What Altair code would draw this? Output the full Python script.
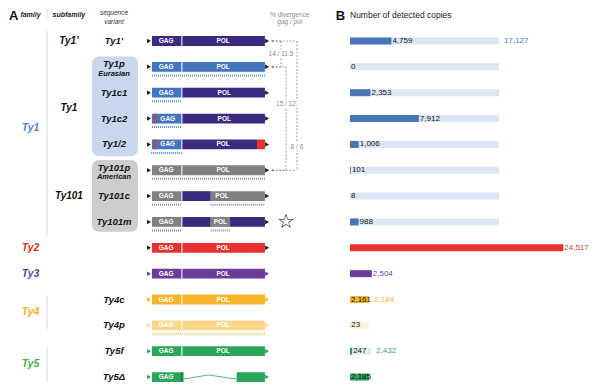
import altair as alt
import pandas as pd

# ---------------- data ----------------
variants = ["Ty1'", "Ty1p", "Ty1c1", "Ty1c2", "Ty1/2", "Ty101p", "Ty101c", "Ty101m",
            "Ty2", "Ty3", "Ty4c", "Ty4p", "Ty5f", "Ty5Δ"]
variant_labels = ["Ty1'", "Ty1p", "Ty1c1", "Ty1c2", "Ty1/2", "Ty101p", "Ty101c", "Ty101m",
                  "", "", "Ty4c", "Ty4p", "Ty5f", "Ty5Δ"]
variant_sublabels = ["", "Eurasian", "", "", "", "American", "", "", "", "", "", "", "", ""]
families = ["Ty1", "Ty2", "Ty3", "Ty4", "Ty5"]
subfamilies = ["Ty1'", "Ty1", "Ty101"]

copies = [4759, 0, 2353, 7912, 1006, 101, 8, 988, 24517, 2504, 2161, 23, 247, 2185]
copy_group = ["Ty1"] * 8 + ["Ty2", "Ty3", "Ty4c", "Ty4p", "Ty5", "Ty5"]
total_names = ["Ty1", "Ty4", "Ty5"]
total_values = [17127, 2184, 2432]
total_members = [variants[0:8], ["Ty4c", "Ty4p"], ["Ty5f", "Ty5Δ"]]

# gene structure (percent of element length) and lineage of origin of each part
seg_variant = ["Ty1'", "Ty1'", "Ty1p", "Ty1p", "Ty1c1", "Ty1c1",
               "Ty1c2", "Ty1c2", "Ty1c2", "Ty1/2", "Ty1/2", "Ty1/2", "Ty1/2",
               "Ty101p", "Ty101p", "Ty101c", "Ty101c", "Ty101c",
               "Ty101m", "Ty101m", "Ty101m", "Ty101m",
               "Ty2", "Ty2", "Ty3", "Ty3", "Ty4c", "Ty4c", "Ty4p", "Ty4p",
               "Ty5f", "Ty5f", "Ty5Δ", "Ty5Δ"]
seg_start = [0, 26.5, 0, 26.5, 0, 26.5,
             0, 26.5, 2.2, 0, 26.5, 2.2, 93,
             0, 26.5, 0, 26.5, 52,
             0, 26.5, 52, 69,
             0, 26.5, 0, 26.5, 0, 26.5, 0, 26.5,
             0, 26.5, 0, 75]
seg_end = [26.5, 100, 26.5, 100, 26.5, 100,
           26.5, 100, 3.8, 26.5, 93, 3.8, 100,
           26.5, 100, 26.5, 52, 100,
           26.5, 52, 69, 100,
           26.5, 100, 26.5, 100, 26.5, 100, 26.5, 100,
           26.5, 100, 28, 100]
seg_origin = ["Ty1'", "Ty1'", "Ty1p", "Ty1p", "Ty1p", "Ty1'",
              "Ty1p", "Ty1'", "Ty2", "Ty1p", "Ty1'", "Ty2", "Ty2",
              "Ty101", "Ty101", "Ty101", "Ty1'", "Ty101",
              "Ty101", "Ty1'", "Ty101", "Ty1'",
              "Ty2", "Ty2", "Ty3", "Ty3", "Ty4c", "Ty4c", "Ty4p", "Ty4p",
              "Ty5", "Ty5", "Ty5", "Ty5"]
tip_origin = ["LTR"] * 9 + ["Ty3", "Ty4c", "Ty4p", "Ty5", "Ty5"]

dom_variant = ["Ty1'", "Ty1'", "Ty1p", "Ty1p", "Ty1c1", "Ty1c1", "Ty1c2", "Ty1c2",
               "Ty1/2", "Ty1/2", "Ty101p", "Ty101p", "Ty101c", "Ty101c", "Ty101m", "Ty101m",
               "Ty2", "Ty2", "Ty3", "Ty3", "Ty4c", "Ty4c", "Ty4p", "Ty4p",
               "Ty5f", "Ty5f", "Ty5Δ"]
dom_text = ["GAG", "POL"] * 13 + ["GAG"]
dom_pos = [12.5, 63, 12.5, 63, 12.5, 64, 14, 64, 14, 63, 12.5, 63, 12.5, 62, 12.5, 60.5,
           12.5, 63, 12.5, 63, 12.5, 63, 12.5, 63, 12.5, 63, 12.5]

dot_variant = ["Ty1p", "Ty1c1", "Ty1c2", "Ty1/2", "Ty101p", "Ty101c", "Ty101c",
               "Ty101m", "Ty101m", "Ty4p"]
dot_start = [0, 0, 0, -1, 0, 0, 52, 0, 52, 0]
dot_end = [100, 26.5, 26.5, 26.5, 100, 26.5, 100, 26.5, 69, 100]
dot_origin = ["Ty1p"] * 4 + ["Ty101"] * 5 + ["Ty4p"]

div_text = ["14 / 11.5", "15 / 12", "8 / 6"]
div_from = ["Ty1'", "Ty1p", "Ty1'"]
div_to = ["Ty1p", "Ty101p", "Ty101p"]

# ---------------- layout / style ----------------
FONT = "Liberation Sans"
XA = [-127.4, 162.0]          # schematic units (element = 0..100)
XB = [-1724, 27816]           # copies
YD = [-1.238, 13.23]          # rows
H = 374
WA, WB = 327, 257
BOX = 0.19
BAR = 0.135
col_family, col_sub, col_var = -107.5, -73.5, -33.6
sep_x = -92.9
arrow_x = 106.4
div_x = [114.2, 118.6, 128.3]
div_label_row = [0.52, 2.45, 4.1]

origin_dom = ["Ty1'", "Ty1p", "Ty101", "Ty2", "Ty3", "Ty4c", "Ty4p", "Ty5", "LTR"]
origin_rng = ["#3b2a7f", "#4275bd", "#808080", "#e8302e", "#6a3d9a",
              "#f8b42c", "#fcd88f", "#2aa65a", "#1a1a1a"]
ocolor = alt.Color("origin:N", scale=alt.Scale(domain=origin_dom, range=origin_rng), legend=None)

row_of = {v: i for i, v in enumerate(variants)}


def xa(f):
    return alt.X(f"{f}:Q", scale=alt.Scale(domain=XA, nice=False, zero=False), axis=None)


def xb(f):
    return alt.X(f"{f}:Q", scale=alt.Scale(domain=XB, nice=False, zero=False), axis=None)


def yy(f):
    return alt.Y(f"{f}:Q", scale=alt.Scale(domain=YD, nice=False, zero=False, reverse=True), axis=None)


# ---------------- panel A ----------------
seg = pd.DataFrame({"v": seg_variant, "s": seg_start, "e": seg_end, "origin": seg_origin})
seg["row"] = seg["v"].map(row_of)
seg["y0"] = seg["row"] - BOX
seg["y1"] = seg["row"] + BOX
segments = alt.Chart(seg).mark_rect().encode(
    x=xa("s"), x2="e", y=yy("y0"), y2="y1", color=ocolor)

sep = pd.DataFrame({"v": variants, "pos": 26.5})
sep["row"] = sep["v"].map(row_of)
sep["y0"] = sep["row"] - BOX
sep["y1"] = sep["row"] + BOX
sep["kind"] = ["white"] * 13 + ["dark"]
separators = alt.Chart(sep).mark_rule(strokeWidth=1).encode(
    x=xa("pos"), y=yy("y0"), y2="y1",
    color=alt.Color("kind:N", scale=alt.Scale(domain=["white", "dark"], range=["#ffffff", "#17673a"]), legend=None))

tips = pd.DataFrame({"v": variants, "origin": tip_origin})
tips["row"] = tips["v"].map(row_of)
tips_l = tips.assign(pos=-2.6)
tips_r = tips.assign(pos=101.9)
tip_marks = alt.Chart(pd.concat([tips_l, tips_r])).mark_point(
    shape="triangle-right", filled=True, size=20, opacity=1).encode(
    x=xa("pos"), y=yy("row"), color=ocolor)

ty5d = pd.DataFrame({"pos": [28, 50, 75],
                     "row": [row_of["Ty5Δ"] + 0.08, row_of["Ty5Δ"] - 0.08, row_of["Ty5Δ"] + 0.08],
                     "o": [0, 1, 2]})
ty5_line = alt.Chart(ty5d).mark_line(color="#2aa65a", strokeWidth=0.8).encode(
    x=xa("pos"), y=yy("row"), order="o:Q")

dom = pd.DataFrame({"v": dom_variant, "t": dom_text, "pos": dom_pos})
dom["row"] = dom["v"].map(row_of)
dom_labels = alt.Chart(dom).mark_text(font=FONT, fontSize=6.5, fontWeight="bold", color="white",
                                      baseline="middle").encode(x=xa("pos"), y=yy("row"), text="t:N")

dots = pd.DataFrame({"v": dot_variant, "s": dot_start, "e": dot_end, "dk": dot_origin})
dots["row"] = dots["v"].map(row_of) + 0.33
dot_marks = alt.Chart(dots).mark_rule(strokeWidth=2, strokeDash=[1, 1]).encode(
    x=xa("s"), x2="e", y=yy("row"),
    color=alt.Color("dk:N", scale=alt.Scale(domain=["Ty1p", "Ty101", "Ty4p"],
                                            range=["#5f8fd3", "#8c8c8c", "#f8cf7c"]), legend=None))

# background boxes for subfamilies
boxes = pd.DataFrame({"name": ["Ty1", "Ty101"], "x0": [-53.1, -53.1], "x1": [-12.4, -12.4],
                      "y0": [0.6, 4.6], "y1": [4.46, 7.38]})
box_marks = alt.Chart(boxes).mark_rect(cornerRadius=7).encode(
    x=xa("x0"), x2="x1", y=yy("y0"), y2="y1",
    color=alt.Color("name:N", scale=alt.Scale(domain=["Ty1", "Ty101"], range=["#c9d7ef", "#cdcdcd"]),
                    legend=None))

vlines = pd.DataFrame({"pos": [sep_x] * 4, "y0": [-1.238, -0.39, 9.85, 11.85], "y1": [-0.92, 7.55, 11.15, 13.2]})
vline_marks = alt.Chart(vlines).mark_rule(color="#d0d0d0", strokeWidth=0.8).encode(
    x=xa("pos"), y=yy("y0"), y2="y1")

# divergence brackets
br = []
for xpos, a, b in zip(div_x, div_from, div_to):
    ra, rb = row_of[a], row_of[b]
    br.append({"x0": arrow_x, "x1": xpos, "y0": ra, "y1": ra})
    br.append({"x0": xpos, "x1": xpos, "y0": ra, "y1": rb})
    br.append({"x0": arrow_x, "x1": xpos, "y0": rb, "y1": rb})
brd = pd.DataFrame(br)
bracket_marks = alt.Chart(brd).mark_rule(color="#8c8c8c", strokeWidth=0.8, strokeDash=[2, 1.5]).encode(
    x=xa("x0"), x2="x1", y=yy("y0"), y2="y1")
arr = pd.DataFrame({"pos": [arrow_x] * 3, "row": sorted({row_of[v] for v in div_from + div_to})})
arrow_marks = alt.Chart(arr).mark_point(shape="triangle-left", filled=True, size=10, color="#8c8c8c",
                                        opacity=1).encode(x=xa("pos"), y=yy("row"))
divl = pd.DataFrame({"t": div_text, "pos": div_x, "row": div_label_row})
div_halo = alt.Chart(divl).mark_text(font=FONT, fontSize=6.5, color="white", stroke="white",
                                     strokeWidth=3, baseline="middle").encode(x=xa("pos"), y=yy("row"), text="t:N")
div_lab = alt.Chart(divl).mark_text(font=FONT, fontSize=6.5, color="#8c8c8c",
                                    baseline="middle").encode(x=xa("pos"), y=yy("row"), text="t:N")

star = alt.Chart(pd.DataFrame({"t": ["☆"], "pos": [118.6], "row": [row_of["Ty101m"]]})).mark_text(
    font="DejaVu Sans", fontSize=20, color="#222", baseline="middle").encode(x=xa("pos"), y=yy("row"), text="t:N")

# headers
hdr = pd.DataFrame({"t": ["family", "subfamily"], "pos": [col_family, col_sub], "row": [-1.02, -1.02]})
hdr_marks = alt.Chart(hdr).mark_text(font=FONT, fontSize=7, fontWeight="bold", fontStyle="italic",
                                     baseline="middle", color="#222").encode(x=xa("pos"), y=yy("row"), text="t:N")
hdr2 = pd.DataFrame({"t": ["sequence", "variant"], "pos": [col_var, col_var], "row": [-1.07, -0.75]})
hdr2_marks = alt.Chart(hdr2).mark_text(font=FONT, fontSize=6.5, fontStyle="italic", baseline="middle",
                                       color="#333").encode(x=xa("pos"), y=yy("row"), text="t:N")
pct = alt.Chart(pd.DataFrame({"t": ["% divergence"], "pos": [122], "row": [-1.02]})).mark_text(
    font=FONT, fontSize=6.5, baseline="middle", color="#8c8c8c").encode(x=xa("pos"), y=yy("row"), text="t:N")
gp = alt.Chart(pd.DataFrame({"t": ["gag / pol"], "pos": [122], "row": [-0.72]})).mark_text(
    font=FONT, fontSize=6.5, fontStyle="italic", baseline="middle", color="#8c8c8c").encode(
    x=xa("pos"), y=yy("row"), text="t:N")
a_mark = alt.Chart(pd.DataFrame({"t": ["A"], "pos": [-126.6], "row": [-1.2]})).mark_text(
    font=FONT, fontSize=13, fontWeight="bold", align="left", baseline="top", color="#111").encode(
    x=xa("pos"), y=yy("row"), text="t:N")

fam = pd.DataFrame({"t": families, "pos": col_family, "row": [3.35, 8, 9, 10.5, 12.5]})
fam_marks = alt.Chart(fam).mark_text(font=FONT, fontSize=10.5, fontWeight="bold", fontStyle="italic",
                                     baseline="middle").encode(
    x=xa("pos"), y=yy("row"), text="t:N",
    color=alt.Color("t:N", scale=alt.Scale(domain=families,
                                           range=["#5a80c2", "#d8342b", "#6a3d9a", "#f2b02c", "#4cae52"]),
                    legend=None))

sub = pd.DataFrame({"t": subfamilies, "pos": col_sub, "row": [0, 2.6, 6]})
sub_marks = alt.Chart(sub).mark_text(font=FONT, fontSize=10, fontWeight="bold", fontStyle="italic",
                                     baseline="middle", color="#111").encode(x=xa("pos"), y=yy("row"), text="t:N")

var = pd.DataFrame({"t": variant_labels, "t2": variant_sublabels, "pos": col_var, "row": range(len(variants))})
two = var["t2"] != ""
var["row1"] = var["row"] - two * 0.1
var_marks = alt.Chart(var[var["t"] != ""]).mark_text(font=FONT, fontSize=9.5, fontWeight="bold",
                                                    fontStyle="italic", baseline="middle", color="#111").encode(
    x=xa("pos"), y=yy("row1"), text="t:N")
var2 = var[two].copy()
var2["row2"] = var2["row"] + 0.28
var2_marks = alt.Chart(var2).mark_text(font=FONT, fontSize=7.5, fontWeight="bold", fontStyle="italic",
                                       baseline="middle", color="#111").encode(x=xa("pos"), y=yy("row2"), text="t2:N")

panelA = alt.layer(box_marks, vline_marks, dot_marks, segments, separators, ty5_line, tip_marks, dom_labels,
                   bracket_marks, arrow_marks, div_halo, div_lab, star, hdr_marks, hdr2_marks, gp, pct, a_mark,
                   fam_marks, sub_marks, var_marks, var2_marks).resolve_scale(
    color="independent").properties(width=WA, height=H)

# ---------------- panel B ----------------
group_dom = ["Ty1", "Ty2", "Ty3", "Ty4c", "Ty4p", "Ty5", "Ty1bg", "Ty4bg", "Ty5bg"]
group_rng = ["#4a74b8", "#e8302e", "#6a3d9a", "#f7b733", "#f7c55a", "#2ca25f", "#dde6f4", "#fdf2dc", "#e2f1e5"]
gcolor = alt.Color("g:N", scale=alt.Scale(domain=group_dom, range=group_rng), legend=None)

bg = []
for name, val, mem in zip(total_names, total_values, total_members):
    for v in mem:
        bg.append({"g": name + "bg", "s": 0, "e": val, "row": row_of[v]})
bgd = pd.DataFrame(bg)
bgd["y0"] = bgd["row"] - BAR
bgd["y1"] = bgd["row"] + BAR
bg_marks = alt.Chart(bgd).mark_rect().encode(x=xb("s"), x2="e", y=yy("y0"), y2="y1", color=gcolor)

bd = pd.DataFrame({"v": variants, "e": copies, "g": copy_group, "s": 0})
bd["row"] = bd["v"].map(row_of)
bd["y0"] = bd["row"] - BAR
bd["y1"] = bd["row"] + BAR
bar_marks = alt.Chart(bd).mark_rect().encode(x=xb("s"), x2="e", y=yy("y0"), y2="y1", color=gcolor)

inside = bd["v"].isin(["Ty4c", "Ty5Δ"])
bd["t"] = bd["e"].map(lambda v: f"{v:,}")
bd["lx"] = bd["e"].where(~inside, 0)
bd["lc"] = bd["g"].map({"Ty2": "Ty2", "Ty3": "Ty3"}).fillna("black")
lab_marks = alt.Chart(bd).mark_text(font=FONT, fontSize=8, align="left", baseline="middle", dx=1).encode(
    x=xb("lx"), y=yy("row"), text="t:N",
    color=alt.Color("lc:N", scale=alt.Scale(domain=["black", "Ty2", "Ty3"],
                                            range=["#111111", "#e0352d", "#6a3d9a"]), legend=None))

td = pd.DataFrame({"tg": total_names, "e": total_values,
                   "row": [row_of[m[0]] for m in total_members]})
td["t"] = td["e"].map(lambda v: f"{v:,}")
tot_marks = alt.Chart(td).mark_text(font=FONT, fontSize=8, align="left", baseline="middle", dx=5).encode(
    x=xb("e"), y=yy("row"), text="t:N",
    color=alt.Color("tg:N", scale=alt.Scale(domain=total_names, range=["#4a74b8", "#f5b942", "#3aa864"]),
                    legend=None))

b_mark = alt.Chart(pd.DataFrame({"t": ["B"], "pos": [-1650], "row": [-1.2]})).mark_text(
    font=FONT, fontSize=13, fontWeight="bold", align="left", baseline="top", color="#111").encode(
    x=xb("pos"), y=yy("row"), text="t:N")
b_title = alt.Chart(pd.DataFrame({"t": ["Number of detected copies"], "pos": [0], "row": [-1.02]})).mark_text(
    font=FONT, fontSize=8.5, align="left", baseline="middle", color="#222").encode(
    x=xb("pos"), y=yy("row"), text="t:N")

panelB = alt.layer(bg_marks, bar_marks, lab_marks, tot_marks, b_mark, b_title).resolve_scale(
    color="independent").properties(width=WB, height=H)

chart = alt.hconcat(panelA, panelB, spacing=0).properties(padding=0).configure_view(strokeWidth=0)
chart.save("out.html", embed_options={"renderer": "svg", "actions": False})
